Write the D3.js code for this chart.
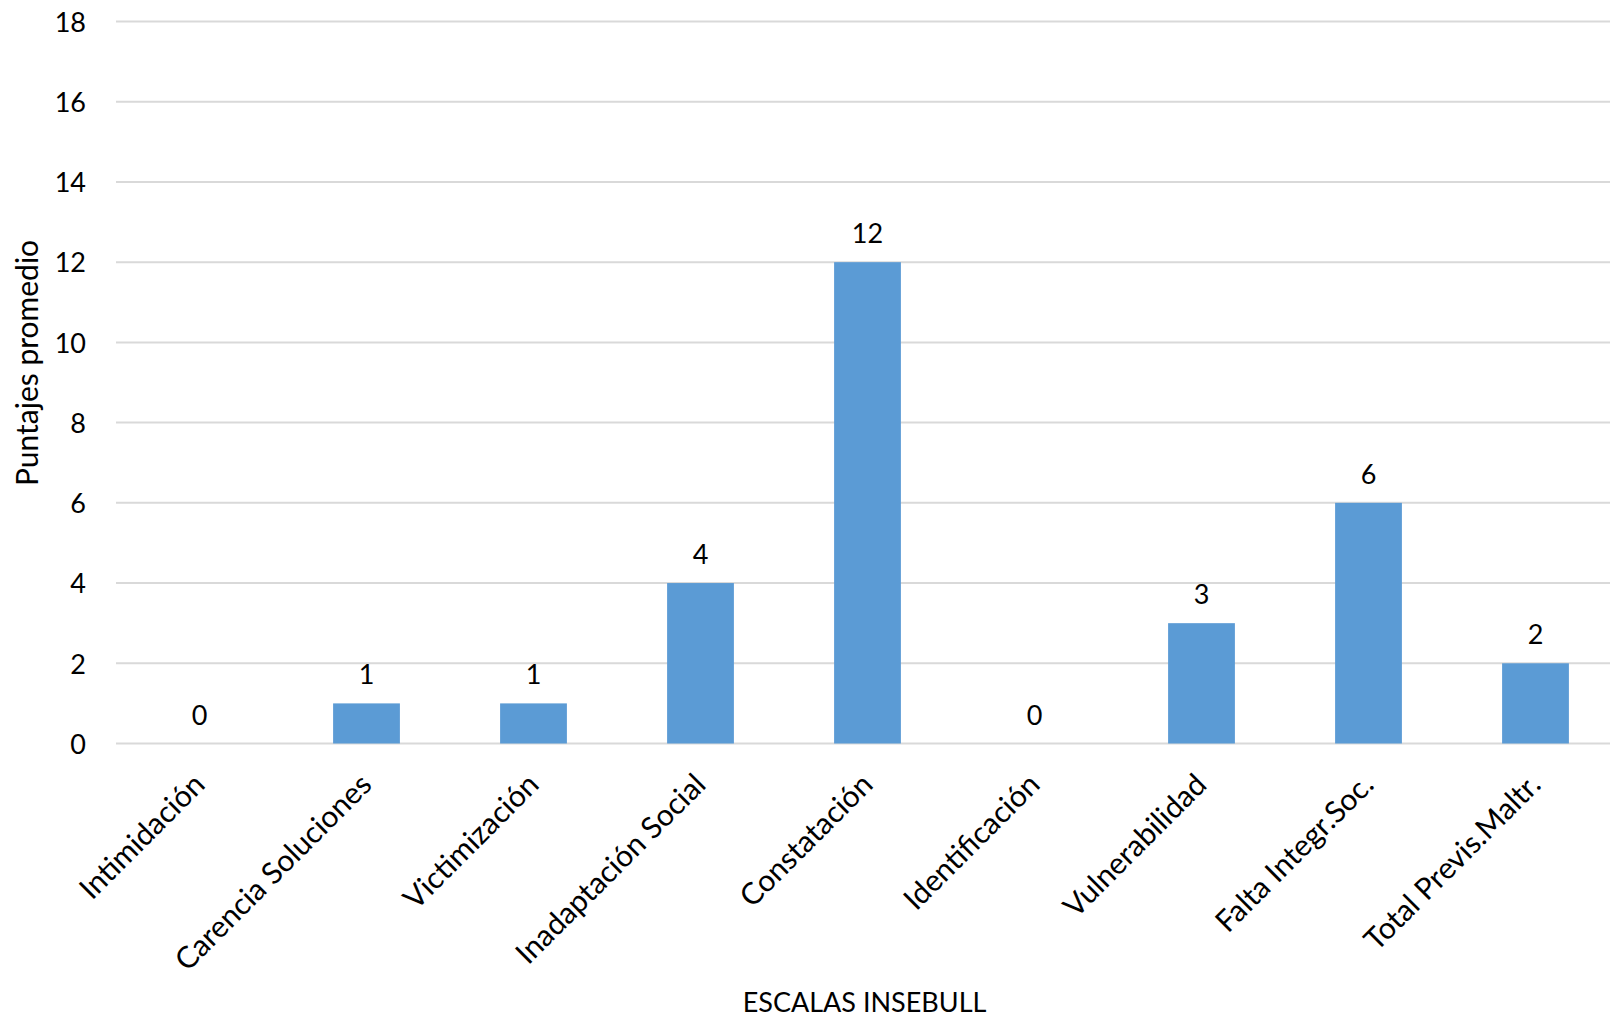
<!DOCTYPE html>
<html>
<head>
<meta charset="utf-8">
<script src="https://cdn.jsdelivr.net/npm/d3@7"></script>
<style>
  html, body { margin: 0; padding: 0; background: #fff; }
  svg { display: block; }
  text { font-family: Lato, "Open Sans", sans-serif; fill: #000; }
</style>
</head>
<body>
<svg id="chart" width="1610" height="1021"></svg>
<script>
const categories = ["Intimidación", "Carencia Soluciones", "Victimización", "Inadaptación Social",
  "Constatación", "Identificación", "Vulnerabilidad", "Falta Integr.Soc.", "Total Previs.Maltr."];
const values = [0, 1, 1, 4, 12, 0, 3, 6, 2];
const yTicks = [0, 2, 4, 6, 8, 10, 12, 14, 16, 18];
const yTitle = "Puntajes promedio";
const xTitle = "ESCALAS INSEBULL";

const W = 1610, H = 1021;
const m = { left: 116, right: 1619, top: 21.5, bottom: 743.5 };
const fs = 27;

const svg = d3.select("#chart");

const x = d3.scaleBand().domain(categories).range([m.left, m.right]).paddingInner(0.6).paddingOuter(0.3);
const y = d3.scaleLinear().domain([0, 18]).range([m.bottom, m.top]);

// gridlines
svg.append("g").selectAll("line").data(yTicks).join("line")
  .attr("x1", m.left).attr("x2", m.right)
  .attr("y1", d => y(d)).attr("y2", d => y(d))
  .attr("stroke", "#D9D9D9").attr("stroke-width", 2);

// y tick labels
const yAxis = d3.axisLeft(y).tickValues(yTicks).tickSize(0).tickPadding(30);
const gy = svg.append("g").attr("transform", `translate(${m.left},0)`).call(yAxis);
gy.select(".domain").remove();
gy.selectAll("text").attr("font-size", fs).attr("font-family", "Lato").attr("fill", "#000")
  .attr("dy", "0.36em");

// bars
svg.append("g").selectAll("rect").data(values).join("rect")
  .attr("x", (d, i) => x(categories[i]))
  .attr("width", x.bandwidth())
  .attr("y", d => y(d))
  .attr("height", d => y(0) - y(d))
  .attr("fill", "#5B9BD5");

// value labels
svg.append("g").selectAll("text").data(values).join("text")
  .attr("x", (d, i) => x(categories[i]) + x.bandwidth() / 2)
  .attr("y", d => y(d) - 19)
  .attr("text-anchor", "middle")
  .attr("font-size", fs)
  .text(d => d);

// x axis labels
const xAxis = d3.axisBottom(x).tickSize(0).tickPadding(0);
const gx = svg.append("g").attr("transform", `translate(0,${m.bottom})`).call(xAxis);
gx.select(".domain").remove();
gx.selectAll("text")
  .attr("font-size", 30).attr("font-family", "Lato").attr("fill", "#000")
  .attr("text-anchor", "end")
  .attr("dy", null).attr("y", 0)
  .attr("transform", "translate(7,43) rotate(-45)");

// axis titles
svg.append("text")
  .attr("x", (m.left + m.right) / 2 - 3)
  .attr("y", 1012)
  .attr("text-anchor", "middle")
  .attr("font-size", 27)
  .text(xTitle);

svg.append("text")
  .attr("transform", `translate(38,363) rotate(-90)`)
  .attr("text-anchor", "middle")
  .attr("font-size", 30)
  .text(yTitle);
</script>
</body>
</html>
